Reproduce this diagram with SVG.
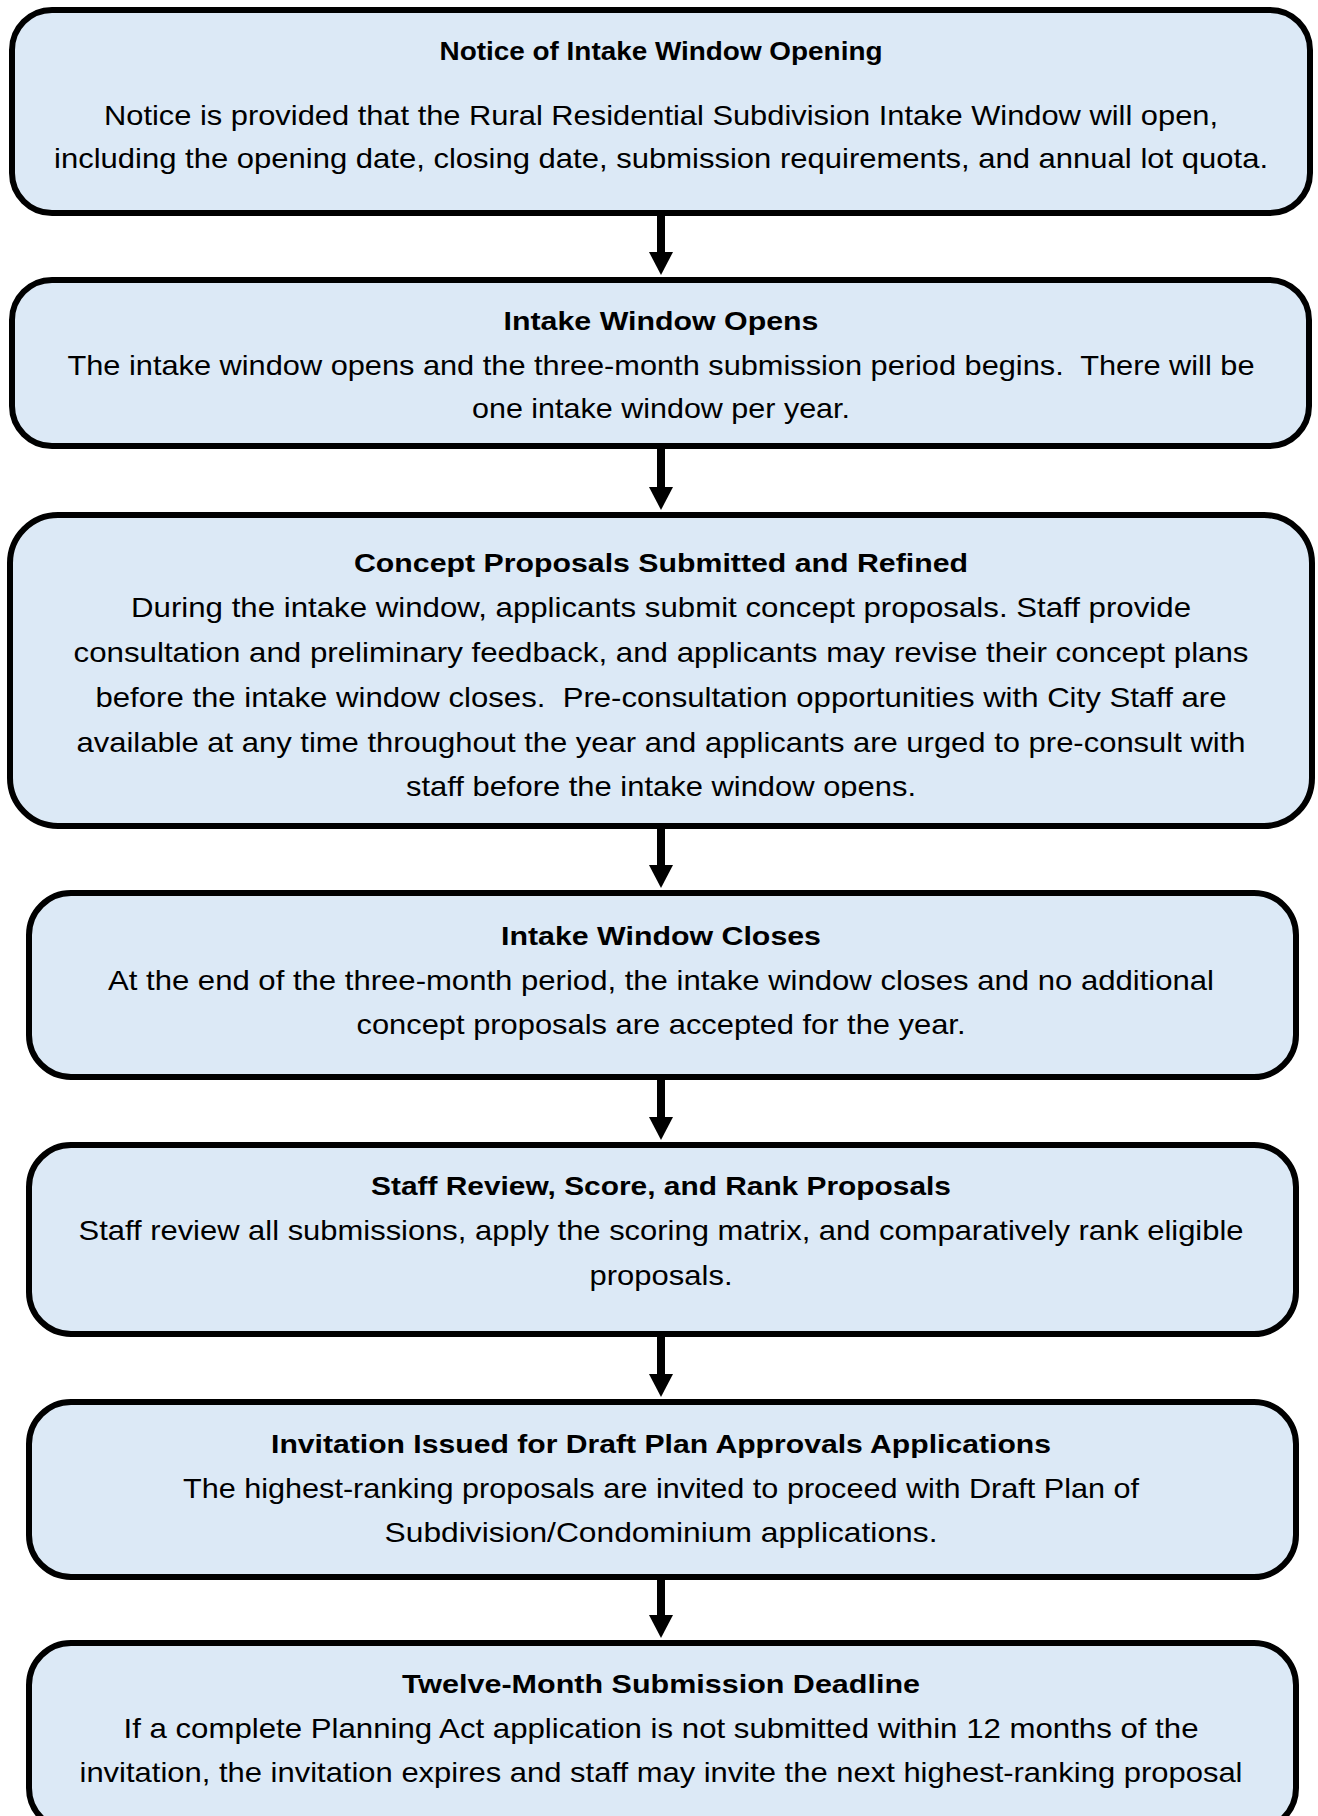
<svg xmlns="http://www.w3.org/2000/svg" width="1318" height="1816" viewBox="0 0 1318 1816">
  <style>
    .box { fill: #DCE9F6; stroke: #000; stroke-width: 6; }
    .title { font-family: "Liberation Sans", Arial, sans-serif; font-weight: bold; font-size: 26px; fill: #000; text-anchor: middle; }
    .body { font-family: "Liberation Sans", Arial, sans-serif; font-size: 28px; fill: #000; text-anchor: middle; }
    .conn { stroke: #000; stroke-width: 8; fill: none; }
  </style>
  <defs>
    <marker id="arrowhead" viewBox="0 0 23 24" markerWidth="23" markerHeight="24" refX="1" refY="12" orient="auto" markerUnits="userSpaceOnUse">
      <path d="M0,0 L23,12 L0,24 Z" fill="#000"/>
    </marker>
    <clipPath id="clip-concept">
      <rect x="0" y="515" width="1318" height="283"/>
    </clipPath>
  </defs>
  <rect width="1318" height="1816" fill="#fff"/>

  <!-- connectors between consecutive steps -->
  <g id="connectors">
    <line class="conn" x1="661" y1="214" x2="661" y2="253" marker-end="url(#arrowhead)"/>
    <line class="conn" x1="661" y1="447" x2="661" y2="488" marker-end="url(#arrowhead)"/>
    <line class="conn" x1="661" y1="827" x2="661" y2="866" marker-end="url(#arrowhead)"/>
    <line class="conn" x1="661" y1="1078" x2="661" y2="1118" marker-end="url(#arrowhead)"/>
    <line class="conn" x1="661" y1="1335" x2="661" y2="1375" marker-end="url(#arrowhead)"/>
    <line class="conn" x1="661" y1="1578" x2="661" y2="1616" marker-end="url(#arrowhead)"/>
  </g>

  <g id="notice-of-intake-window-opening">
    <rect class="box" x="12" y="10" width="1298" height="203" rx="40" ry="40"/>
    <text class="title" x="661" y="60" textLength="443" lengthAdjust="spacingAndGlyphs">Notice of Intake Window Opening</text>
    <text class="body" x="661" y="125" textLength="1114" lengthAdjust="spacingAndGlyphs">Notice is provided that the Rural Residential Subdivision Intake Window will open,</text>
    <text class="body" x="661" y="168" textLength="1214" lengthAdjust="spacingAndGlyphs">including the opening date, closing date, submission requirements, and annual lot quota.</text>
  </g>

  <g id="intake-window-opens">
    <rect class="box" x="12" y="280" width="1297" height="166" rx="40" ry="40"/>
    <text class="title" x="661" y="330" textLength="315" lengthAdjust="spacingAndGlyphs">Intake Window Opens</text>
    <text class="body" x="661" y="375" textLength="1187" lengthAdjust="spacingAndGlyphs" xml:space="preserve">The intake window opens and the three-month submission period begins.  There will be</text>
    <text class="body" x="661" y="418" textLength="378" lengthAdjust="spacingAndGlyphs">one intake window per year.</text>
  </g>

  <g id="concept-proposals-submitted-and-refined">
    <rect class="box" x="10" y="515" width="1302" height="311" rx="48" ry="48"/>
    <text class="title" x="661" y="572" textLength="614" lengthAdjust="spacingAndGlyphs">Concept Proposals Submitted and Refined</text>
    <g clip-path="url(#clip-concept)">
      <text class="body" x="661" y="617" textLength="1060" lengthAdjust="spacingAndGlyphs">During the intake window, applicants submit concept proposals. Staff provide</text>
      <text class="body" x="661" y="662" textLength="1175" lengthAdjust="spacingAndGlyphs">consultation and preliminary feedback, and applicants may revise their concept plans</text>
      <text class="body" x="661" y="707" textLength="1131" lengthAdjust="spacingAndGlyphs" xml:space="preserve">before the intake window closes.  Pre-consultation opportunities with City Staff are</text>
      <text class="body" x="661" y="752" textLength="1169" lengthAdjust="spacingAndGlyphs">available at any time throughout the year and applicants are urged to pre-consult with</text>
      <text class="body" x="661" y="796" textLength="510" lengthAdjust="spacingAndGlyphs">staff before the intake window opens.</text>
    </g>
  </g>

  <g id="intake-window-closes">
    <rect class="box" x="29" y="893" width="1267" height="184" rx="42" ry="42"/>
    <text class="title" x="661" y="945" textLength="320" lengthAdjust="spacingAndGlyphs">Intake Window Closes</text>
    <text class="body" x="661" y="990" textLength="1106" lengthAdjust="spacingAndGlyphs">At the end of the three-month period, the intake window closes and no additional</text>
    <text class="body" x="661" y="1034" textLength="609" lengthAdjust="spacingAndGlyphs">concept proposals are accepted for the year.</text>
  </g>

  <g id="staff-review-score-rank">
    <rect class="box" x="29" y="1145" width="1267" height="189" rx="42" ry="42"/>
    <text class="title" x="661" y="1195" textLength="580" lengthAdjust="spacingAndGlyphs">Staff Review, Score, and Rank Proposals</text>
    <text class="body" x="661" y="1240" textLength="1165" lengthAdjust="spacingAndGlyphs">Staff review all submissions, apply the scoring matrix, and comparatively rank eligible</text>
    <text class="body" x="661" y="1285" textLength="143" lengthAdjust="spacingAndGlyphs">proposals.</text>
  </g>

  <g id="invitation-issued">
    <rect class="box" x="29" y="1402" width="1267" height="175" rx="42" ry="42"/>
    <text class="title" x="661" y="1453" textLength="780" lengthAdjust="spacingAndGlyphs">Invitation Issued for Draft Plan Approvals Applications</text>
    <text class="body" x="661" y="1498" textLength="956" lengthAdjust="spacingAndGlyphs">The highest-ranking proposals are invited to proceed with Draft Plan of</text>
    <text class="body" x="661" y="1542" textLength="553" lengthAdjust="spacingAndGlyphs">Subdivision/Condominium applications.</text>
  </g>

  <g id="twelve-month-submission-deadline">
    <rect class="box" x="29" y="1643" width="1267" height="187" rx="42" ry="42"/>
    <text class="title" x="661" y="1693" textLength="518" lengthAdjust="spacingAndGlyphs">Twelve-Month Submission Deadline</text>
    <text class="body" x="661" y="1738" textLength="1075" lengthAdjust="spacingAndGlyphs">If a complete Planning Act application is not submitted within 12 months of the</text>
    <text class="body" x="661" y="1782" textLength="1163" lengthAdjust="spacingAndGlyphs">invitation, the invitation expires and staff may invite the next highest-ranking proposal</text>
  </g>
</svg>
